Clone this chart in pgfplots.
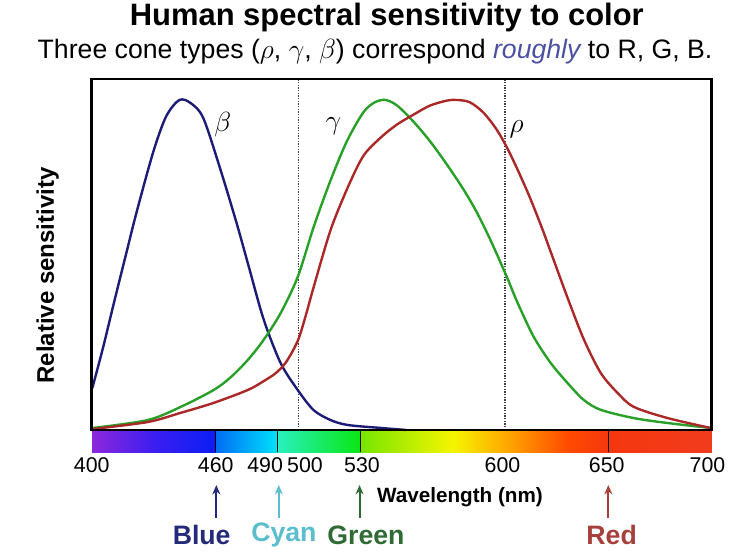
\documentclass[border=0pt]{standalone}
\usepackage{pgfplots}
\pgfplotsset{compat=1.18}
\usepackage{fontspec}
\setmainfont{Liberation Sans}
\usetikzlibrary{arrows.meta}
\definecolor{cblue}{RGB}{28,28,118}
\definecolor{cgreen}{RGB}{40,160,40}
\definecolor{cred}{RGB}{170,40,40}
\definecolor{rough}{RGB}{75,80,160}
\definecolor{lblue}{RGB}{36,42,120}
\definecolor{lcyan}{RGB}{90,190,205}
\definecolor{lgreen}{RGB}{46,107,53}
\definecolor{lred}{RGB}{166,64,58}
\pgfplotsset{colormap={spectrum}{
 rgb255(0pt)=(140,40,220) rgb255(30pt)=(60,30,240) rgb255(59.9pt)=(10,30,245)
 rgb255(60.1pt)=(0,110,245) rgb255(89.9pt)=(0,225,250)
 rgb255(90.1pt)=(40,240,190) rgb255(129.9pt)=(10,230,20)
 rgb255(130.1pt)=(120,230,0) rgb255(175pt)=(245,245,0) rgb255(200pt)=(255,170,0)
 rgb255(230pt)=(255,75,0) rgb255(250pt)=(245,55,15) rgb255(300pt)=(240,60,30)}}
\begin{document}
\begin{tikzpicture}
\path[use as bounding box] (-68.8pt,-91.5pt) rectangle (478pt,322.5pt);
\begin{axis}[
  scale only axis, width=465pt, height=263.25pt,
  at={(0,0)}, anchor=south west,
  xmin=400, xmax=700, ymin=0, ymax=1.0636,
  axis line style={line width=2pt},
  xtick={400,460,483.9,503.2,530.8,598.8,649.2,698},
  xticklabels={400,460,490,500,530,600,650,700},
  ytick=\empty,
  major tick length=0pt,
  xticklabel style={anchor=center, yshift=-26.25pt, font=\fontsize{16}{18}\selectfont},
  /pgf/number format/assume math mode=true,
  ylabel={Relative sensitivity},
  ylabel style={at={(axis description cs:-0.071,0.44)}, anchor=center, font=\bfseries\fontsize{18}{21}\selectfont},
  clip=false, axis on top,
  colormap name=spectrum, point meta min=400, point meta max=700,
]
\addplot[surf, shader=interp, point meta=x, mesh/cols=13] coordinates {
(400,-0.068) (430,-0.068) (459.9,-0.068) (460.1,-0.068) (489.9,-0.068) (490.1,-0.068) (529.9,-0.068) (530.1,-0.068) (575,-0.068) (600,-0.068) (630,-0.068) (650,-0.068) (700,-0.068)
(400,0) (430,0) (459.9,0) (460.1,0) (489.9,0) (490.1,0) (529.9,0) (530.1,0) (575,0) (600,0) (630,0) (650,0) (700,0)
};
\addplot[black, line width=1pt] coordinates {(460,-0.068) (460,0)};
\addplot[black, line width=1pt] coordinates {(490,-0.068) (490,0)};
\addplot[black, line width=1pt] coordinates {(530,-0.068) (530,0)};
\addplot[black, line width=1pt] coordinates {(650,-0.068) (650,0)};
\addplot[densely dotted, line width=1pt, black!75] coordinates {(500,0) (500,1.0636)};
\addplot[densely dotted, line width=1pt, black!75] coordinates {(600,0) (600,1.0636)};
% blue cone
\addplot[cblue, line width=1.8pt, smooth] coordinates {
(400.3,0.127) (405.5,0.25) (410.7,0.384) (416.9,0.54) (421.8,0.662) (429.8,0.843)
(436,0.95) (442.4,1.0) (448,0.99) (454.0,0.945) (462.1,0.793) (470.2,0.625)
(476,0.495) (483.2,0.335) (491.4,0.203) (499.7,0.121) (507.4,0.06) (515.6,0.03)
(523.9,0.015) (540,0.006) (552,0.0)};
% green cone
\addplot[cgreen, line width=1.8pt, smooth] coordinates {
(400.5,0.006) (427.1,0.03) (443.1,0.07) (459.0,0.121) (467.3,0.16) (475.5,0.212)
(483.2,0.273) (491.5,0.355) (499.7,0.464) (507.4,0.615) (515.3,0.752) (523.4,0.874)
(531.4,0.962) (537,0.993) (542.3,1.0) (548,0.982) (555.6,0.935) (563.7,0.875)
(571.8,0.805) (579.8,0.73) (586.3,0.66) (593,0.575) (600.8,0.465) (606.1,0.385)
(613.9,0.282) (622.1,0.203) (630.3,0.142) (638.1,0.091) (646.3,0.061) (662.3,0.036)
(678.7,0.021) (699.5,0.006)};
% red cone
\addplot[cred, line width=1.8pt, smooth] coordinates {
(400.5,0.003) (427.1,0.024) (443.1,0.052) (459.0,0.082) (475.5,0.121) (483.2,0.148)
(489,0.172) (494,0.205) (499.7,0.27) (503.5,0.345) (507.4,0.433) (515.6,0.606)
(523.9,0.735) (531.4,0.83) (539.5,0.884) (547.6,0.925) (556.4,0.958) (563.7,0.983)
(571.8,0.998) (577,1.0) (583,0.993) (589.5,0.962) (596,0.91) (601,0.855)
(606,0.79) (612,0.705) (618,0.61) (622.1,0.54) (630.3,0.4) (638.1,0.275)
(646.3,0.173) (654.5,0.112) (662.3,0.07) (678.7,0.036) (699.5,0.006)};
\node at (axis cs:463.4,0.924) {\fontsize{21}{24}\selectfont$\beta$};
\node at (axis cs:517,0.92) {\fontsize{21}{24}\selectfont$\gamma$};
\node at (axis cs:605.6,0.91) {\fontsize{21}{24}\selectfont$\rho$};
% arrows and colour names
\draw[-{Stealth[length=7pt,width=6pt]}, line width=1.5pt, lblue] (axis cs:460.3,-0.267) -- (axis cs:460.3,-0.167);
\draw[-{Stealth[length=7pt,width=6pt]}, line width=1.5pt, lcyan] (axis cs:490.5,-0.267) -- (axis cs:490.5,-0.167);
\draw[-{Stealth[length=7pt,width=6pt]}, line width=1.5pt, lgreen] (axis cs:529.6,-0.267) -- (axis cs:529.6,-0.167);
\draw[-{Stealth[length=7pt,width=6pt]}, line width=1.5pt, lred] (axis cs:650,-0.267) -- (axis cs:650,-0.167);
\node[font=\bfseries\fontsize{20}{22}\selectfont, text=lblue] at (axis cs:453.2,-0.318) {Blue};
\node[font=\bfseries\fontsize{20}{22}\selectfont, text=lcyan] at (axis cs:493,-0.318) {Cyan};
\node[font=\bfseries\fontsize{20}{22}\selectfont, text=lgreen] at (axis cs:532.7,-0.318) {Green};
\node[font=\bfseries\fontsize{20}{22}\selectfont, text=lred] at (axis cs:651.6,-0.318) {Red};
\node[anchor=west, inner sep=0pt, font=\bfseries\fontsize{15.5}{18}\selectfont] at (axis cs:538,-0.203) {Wavelength (nm)};
\node[font=\bfseries\fontsize{23.2}{27}\selectfont] at (axis description cs:0.476,1.174) {Human spectral sensitivity to color};
\node[font=\fontsize{20}{23}\selectfont] at (axis description cs:0.457,1.077) {Three cone types ($\rho$, $\gamma$, $\beta$) correspond \textcolor{rough}{\itshape roughly} to R, G, B.};
\end{axis}
\end{tikzpicture}
\end{document}
